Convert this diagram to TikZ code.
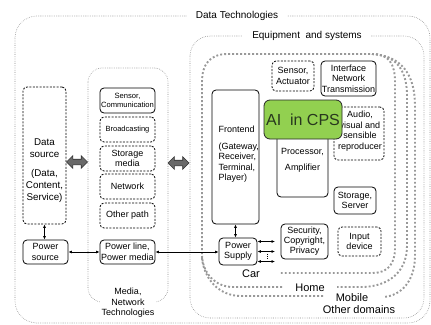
\documentclass[tikz,border=0pt]{standalone}
\usepackage{fontspec}
\setmainfont{Liberation Sans}
\usetikzlibrary{arrows.meta,shapes.arrows}
\definecolor{aigreen}{RGB}{146,208,80}
\definecolor{aitext}{RGB}{40,55,30}
\definecolor{fatgray}{RGB}{105,105,105}
\tikzset{
  solidbox/.style={draw, line width=0.8pt, rounded corners=4pt, inner sep=0pt, align=center},
  dashbox/.style={solidbox, dash pattern=on 2pt off 1.4pt},
  thindots/.style={draw=black!45, line width=0.6pt, dash pattern=on 0.6pt off 1.2pt},
  fatdots/.style={draw=black!40, line width=1.9pt, dash pattern=on 1.9pt off 2.1pt},
  twoway/.style={{Latex[length=3.5pt,width=3pt]}-{Latex[length=3.5pt,width=3pt]}, line width=0.7pt},
  fatarrow/.style={double arrow, draw=black!80, fill=fatgray, line width=0.6pt,
    minimum height=21pt, inner sep=2.5pt, double arrow head extend=3.5pt},
  t9/.style={font=\fontsize{9}{10.5}\selectfont},
  t10/.style={font=\fontsize{9.8}{12}\selectfont},
  t11/.style={font=\fontsize{11}{13}\selectfont},
  gaplabel/.style={fill=white, inner xsep=9pt, inner ysep=1pt, font=\fontsize{10}{12}\selectfont},
}
\begin{document}
\begin{tikzpicture}[x=1pt,y=-1pt]
\useasboundingbox (0,0) rectangle (431,324);

% technology areas
\draw[thindots, rounded corners=22pt] (15,16) rectangle (430,323);
\node[gaplabel] (dt) at (237,16) {Data Technologies};
\draw[thindots, rounded corners=20pt] (190,36) rectangle (424,318);
\node[gaplabel] (eq) at (307,36) {Equipment\ \ and systems};
\draw[thindots, rounded corners=14pt] (88,68) rectangle (168,302);
\node[fill=white, t9, align=center, inner sep=2pt] (mnt) at (128,303) {Media,\\Network\\Technologies};

% application domains
\draw[fatdots] (202,258) -- (202,82) .. controls (202,64) and (210,54) .. (228,54) -- (372,54);
\draw[fatdots] (372,54) .. controls (389,54) and (395,64) .. (395,82) -- (395,248)
  .. controls (395,264) and (388,273) .. (372,273) -- (279,273);
\draw[fatdots] (372,54) .. controls (396,55) and (407,70) .. (407,96) -- (407,246)
  .. controls (407,274) and (386,287) .. (361,287) -- (337,287);
\draw[fatdots] (282,287) -- (233,287) .. controls (215,287) and (203,273) .. (202,256);
\draw[fatdots] (372,54) .. controls (403,56) and (415,76) .. (415,106) -- (415,256)
  .. controls (415,281) and (401,296) .. (383,297);
\draw[fatdots] (323,296) -- (241,296) .. controls (219,296) and (204,279) .. (202,258);
\node[t11, inner sep=0pt] (car) at (251,274) {Car};
\node[t11, inner sep=0pt] (home) at (310,288) {Home};
\node[t11, inner sep=0pt] (mobile) at (352,298) {Mobile};
\node[t11, fill=white, inner sep=0.5pt] (other) at (359,310) {Other domains};

% data source side
\node[dashbox, minimum width=43pt, minimum height=137pt] (dsrc) at (44.5,155.5) {};
\node[t10, align=center] (dsrctxt) at (44.5,170.5) {Data\\source\\[6.5pt](Data,\\Content,\\Service)};
\node[solidbox, minimum width=45pt, minimum height=24pt, t9] (psrc) at (45.5,252) {Power\\source};
\draw[twoway] (dsrc.south) -- (dsrc.south |- psrc.north);

% media column
\node[solidbox, minimum width=55pt, minimum height=25pt, font=\fontsize{7.6}{9.5}\selectfont] (sencom) at (127.5,100.5) {Sensor,\\Communication};
\node[dashbox, minimum width=55pt, minimum height=25pt, font=\fontsize{7.5}{9}\selectfont] (bcast) at (127.5,129.5) {Broadcasting};
\node[dashbox, minimum width=55pt, minimum height=25pt, t9] (stor) at (127.5,158.5) {Storage\\media};
\node[dashbox, minimum width=55pt, minimum height=25pt, t9] (netw) at (127.5,186.5) {Network};
\node[dashbox, minimum width=55pt, minimum height=25pt, t9] (oth) at (127.5,215.5) {Other path};
\node[solidbox, minimum width=55pt, minimum height=24pt, t9] (pline) at (127.5,252) {Power line,\\Power media};

\node[fatarrow] (fa1) at (77,162) {};
\node[fatarrow] (fa2) at (178.5,163) {};

% equipment
\node[solidbox, minimum width=47pt, minimum height=134pt] (front) at (235.5,157) {};
\node[t9, align=left, anchor=west] (fronttxt) at (215,154) {Frontend\\[6.5pt](Gateway,\\Receiver,\\Terminal,\\Player)};
\node[solidbox, minimum width=51pt, minimum height=84pt] (proc) at (302.5,155) {};
\node[t9, align=center] (proctxt) at (302.5,160) {Processor,\\[5.5pt]Amplifier};
\node[dashbox, minimum width=50pt, minimum height=53pt] (audio) at (359,133.5) {};
\node[t9, align=center] (audiotxt) at (360,131) {Audio,\\visual and\\sensible\\reproducer};
\node[solidbox, draw=black!85, fill=aigreen, rounded corners=6pt, minimum width=78pt, minimum height=39pt,
  font=\fontsize{16}{18}\selectfont, text=aitext] (ai) at (303,119.5) {AI\ \ in CPS};
\node[dashbox, minimum width=42pt, minimum height=30pt, t9] (sact) at (293,76) {Sensor,\\Actuator};
\node[solidbox, minimum width=55pt, minimum height=35pt, t9] (iface) at (348.5,78.5) {Interface\\Network\\Transmission};
\node[solidbox, minimum width=42pt, minimum height=27pt, t9] (stsrv) at (355,200.5) {Storage,\\Server};
\node[solidbox, minimum width=47pt, minimum height=35pt, font=\fontsize{9}{10}\selectfont] (sec) at (304.5,241.5) {Security,\\Copyright,\\Privacy};
\node[dashbox, minimum width=43pt, minimum height=29pt, t9] (inp) at (359.5,241.5) {Input\\device};
\node[solidbox, minimum width=38pt, minimum height=27pt, t9] (psup) at (238,251.5) {Power\\Supply};

% power connections
\draw[twoway] (psrc.east) -- (pline.west);
\draw[twoway] (pline.east) -- (pline.east -| psup.west);
\draw[twoway] (front.south) -- (front.south |- psup.north);
\coordinate (out1) at (275,241.5);
\coordinate (out2) at (275,251.5);
\coordinate (out3) at (275,261.5);
\draw[twoway] (psup.east |- out1) -- (out1);
\draw[twoway] (psup.east |- out2) -- (out2);
\draw[twoway] (psup.east |- out3) -- (out3);
\draw[line width=0.8pt, dash pattern=on 0.8pt off 1.6pt] (267,253.5) -- (267,260);
\end{tikzpicture}
\end{document}
